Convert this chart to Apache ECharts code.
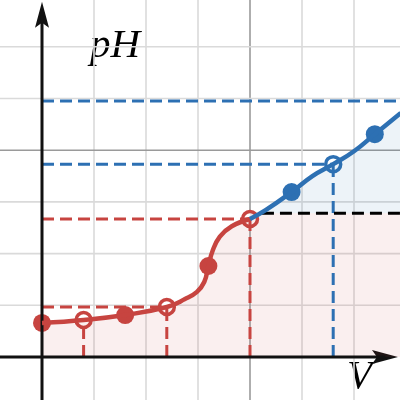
<!DOCTYPE html>
<html>
<head>
<meta charset="utf-8">
<script src="https://cdn.jsdelivr.net/npm/echarts@6/dist/echarts.min.js"></script>
<style>
html,body{margin:0;padding:0;background:#fff;}
#chart{width:400px;height:400px;}
</style>
</head>
<body>
<div id="chart"></div>
<script>
// ---- data (grid units) ----
const redCurve = [[0,0.658],[0.8,0.716],[1.6,0.812],[2.4,0.967],[2.75,1.12],[2.98,1.26],[3.12,1.45],[3.2,1.76],[3.28,2.05],[3.42,2.33],[3.65,2.53],[4.0,2.67]];
const blueCurve = [[4.0,2.67],[4.3,2.84],[4.8,3.19],[5.2,3.50],[5.6,3.73],[6.0,3.98],[6.4,4.31],[6.9,4.72]];
const redFilled = [[0,0.658],[1.6,0.812],[3.2,1.76]];
const redOpen = [[0.8,0.716],[2.4,0.967],[4.0,2.67]];
const blueFilled = [[4.8,3.19],[6.4,4.31]];
const blueOpen = [[5.6,3.73]];
const plateau = [[4.0,2.78],[7.0,2.78]];
const redGuides = [
  [[0,0.967],[2.4,0.967]],
  [[0.8,0],[0.8,0.716]],
  [[2.4,0],[2.4,0.967]],
  [[0,2.67],[4.0,2.67]],
  [[4.0,0],[4.0,2.67]]
];
const blueGuides = [
  [[0,3.73],[5.6,3.73]],
  [[5.6,0],[5.6,3.73]],
  [[0,4.95],[7.0,4.95]]
];
const blackGuides = [[[4.23,2.78],[7.0,2.78]]];
const gridTicks = [-1,0,1,2,3,4,5,6,7];
const majorTick = 4;
const X_MIN = -0.8077, X_MAX = 6.8846, Y_MIN = -0.8317, Y_MAX = 6.9052;
const xAxisLine = [[X_MIN,0],[6.6,0]];
const yAxisLine = [[0,Y_MIN],[0,6.6]];
const xArrowTip = [[6.846,0]];
const yArrowTip = [[0,6.87]];
const xLabel = 'V';
const yLabel = 'pH';

const RED = '#c74440', BLUE = '#2d70b3';

const series = [];
// grid lines
gridTicks.forEach(t => {
  const c = t === majorTick ? '#9a9a9a' : '#dadada';
  if (t !== 0) {
    series.push({type:'line', data:[[t,Y_MIN],[t,Y_MAX]], symbol:'none', silent:true, z:1,
      lineStyle:{color:c, width:1.6}});
    series.push({type:'line', data:[[X_MIN,t],[X_MAX,t]], symbol:'none', silent:true, z:1,
      lineStyle:{color:c, width:1.6}});
  }
});
// fills
series.push({type:'line', data:plateau, symbol:'none', lineStyle:{width:0},
  areaStyle:{color:'rgba(199,68,64,0.12)'}});
series.push({type:'line', data:redCurve, symbol:'none', smooth:0.45, lineStyle:{width:0},
  areaStyle:{color:'rgba(199,68,64,0.12)'}});
series.push({type:'line', data:blueCurve, symbol:'none', smooth:0.45, lineStyle:{width:0},
  areaStyle:{color:'rgba(45,112,179,0.12)', origin:2.78}});
// dashed guides
const dashed = (d, c) => ({type:'line', data:d, symbol:'none', silent:true,
  lineStyle:{color:c, width:3, type:[12,6]}});
redGuides.forEach(d => series.push(dashed(d, RED)));
blueGuides.forEach(d => series.push(dashed(d, BLUE)));
blackGuides.forEach(d => series.push(dashed(d, '#000')));
// axes
series.push({type:'line', data:xAxisLine, symbol:'none', lineStyle:{color:'#111', width:3}});
series.push({type:'line', data:yAxisLine, symbol:'none', lineStyle:{color:'#111', width:3}});
series.push({type:'scatter', data:xArrowTip, symbol:'path://M26,7 L0,14 L5,7 L0,0 Z', symbolSize:[26,14],
  symbolOffset:[-13,0], itemStyle:{color:'#111', opacity:1}});
series.push({type:'scatter', data:yArrowTip, symbol:'path://M7,0 L14,26 L7,21 L0,26 Z', symbolSize:[14,26],
  symbolOffset:[0,13], itemStyle:{color:'#111', opacity:1}});
// curves
series.push({type:'line', data:redCurve, symbol:'none', smooth:0.45,
  lineStyle:{color:RED, width:4.5}});
series.push({type:'line', data:blueCurve, symbol:'none', smooth:0.45,
  lineStyle:{color:BLUE, width:4.5}});
// points
series.push({type:'scatter', data:redFilled, symbolSize:18, itemStyle:{color:RED, opacity:1}});
series.push({type:'scatter', data:blueFilled, symbolSize:18, itemStyle:{color:BLUE, opacity:1}});
series.push({type:'scatter', data:redOpen, symbolSize:15, itemStyle:{color:'#fff', borderColor:RED, borderWidth:3.5, opacity:1}});
series.push({type:'scatter', data:blueOpen, symbolSize:15, itemStyle:{color:'#fff', borderColor:BLUE, borderWidth:3.5, opacity:1}});

const chart = echarts.init(document.getElementById('chart'), null, {renderer:'canvas'});
chart.setOption({
  animation:false,
  backgroundColor:'#fff',
  grid:{left:0, top:0, right:0, bottom:0, containLabel:false},
  xAxis:{type:'value', min:X_MIN, max:X_MAX,
    axisLine:{show:false}, axisTick:{show:false}, axisLabel:{show:false}, splitLine:{show:false}},
  yAxis:{type:'value', min:Y_MIN, max:Y_MAX,
    axisLine:{show:false}, axisTick:{show:false}, axisLabel:{show:false}, splitLine:{show:false}},
  graphic:[
    {type:'text', left:90, top:26, silent:true,
      style:{text:yLabel, font:'italic 41px "Liberation Serif", serif', fill:'#000'}},
    {type:'text', left:347, top:357, silent:true,
      style:{text:xLabel, font:'italic 41px "Liberation Serif", serif', fill:'#000'}}
  ],
  series:series
});
</script>
</body>
</html>
